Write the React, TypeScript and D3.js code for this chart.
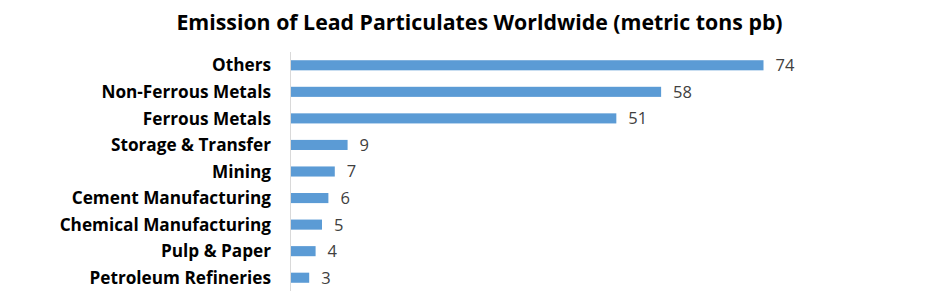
import React from "react";
import * as d3 from "d3";

const categories = [
  "Others",
  "Non-Ferrous Metals",
  "Ferrous Metals",
  "Storage & Transfer",
  "Mining",
  "Cement Manufacturing",
  "Chemical Manufacturing",
  "Pulp & Paper",
  "Petroleum Refineries",
];
const values = [74, 58, 51, 9, 7, 6, 5, 4, 3];
const title = "Emission of Lead Particulates Worldwide (metric tons pb)";

const W = 941;
const H = 293;
const FONT = "'Open Sans', sans-serif";

export default function App() {
  const x = d3.scaleLinear().domain([0, 74]).range([290, 763.5]);
  const y = d3.scaleBand<string>().domain(categories).range([52, 291]).paddingInner(0.62).paddingOuter(0.31);
  return (
    <svg width={W} height={H} style={{ position: "absolute", left: 0, top: 0, background: "#fff" }}>
      <text x={479.5} y={30} textAnchor="middle" fontFamily={FONT} fontWeight="bold" fontSize={21.3} fill="#000">
        {title}
      </text>
      {categories.map((c, i) => {
        const yy = y(c)!;
        const bw = y.bandwidth();
        return (
          <g key={c}>
            <rect x={x(0)} y={yy} width={x(values[i]) - x(0)} height={bw} fill="#5b9bd5" />
            <text x={271} y={yy + bw / 2} dy="0.36em" textAnchor="end" fontFamily={FONT} fontWeight="bold" fontSize={17.2} fill="#000">
              {c}
            </text>
            <text x={x(values[i]) + 12} y={yy + bw / 2} dy="0.36em" fontFamily={FONT} fontSize={16.5} fill="#404040">
              {values[i]}
            </text>
          </g>
        );
      })}
      <line x1={290.5} x2={290.5} y1={52} y2={291} stroke="#d9d9d9" strokeWidth={1} />
    </svg>
  );
}
